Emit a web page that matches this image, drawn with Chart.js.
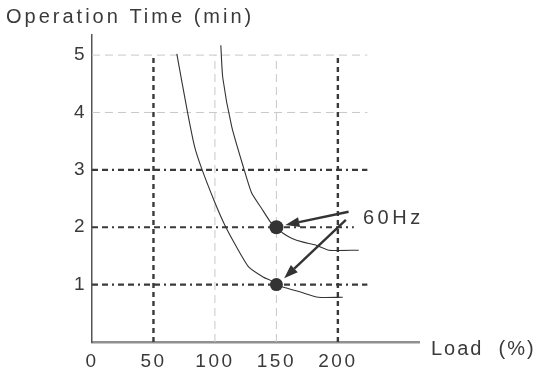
<!DOCTYPE html>
<html>
<head>
<meta charset="utf-8">
<script src="https://cdn.jsdelivr.net/npm/chart.js@4"></script>
<style>
  html, body { margin: 0; padding: 0; background: #fff; }
  #wrap { width: 538px; height: 372px; position: relative; }
</style>
</head>
<body>
<div id="wrap"><canvas id="c" width="538" height="372"></canvas></div>
<script>
// ---- data ----
const xTicks = [0, 50, 100, 150, 200];
const yTicks = [1, 2, 3, 4, 5];

// lower operation-time curve
const lowCurveX = [69, 78, 83.4, 89.1, 99.2, 107.3, 116.7, 127.4, 139.5, 147.6, 150, 155.1, 169.6, 184.1, 204];
const lowCurveY = [5.02, 3.97, 3.41, 3.03, 2.47, 2.07, 1.69, 1.31, 1.13, 1.05, 1.0, 0.96, 0.87, 0.78, 0.78];
// upper operation-time curve
const highCurveX = [104.8, 106.4, 113.7, 123.4, 129.8, 137.9, 145.2, 150, 155.1, 162.3, 171.8, 181.9, 192.8, 217];
const highCurveY = [5.17, 4.60, 3.75, 3.03, 2.60, 2.33, 2.09, 2.0, 1.90, 1.81, 1.74, 1.69, 1.60, 1.60];

// 60Hz marker points
const markX = [150, 150];
const markY = [2, 1];
const markSize = [7, 6.5];

// reference (grid) lines
const majorGridX = [50, 200];
const minorGridX = [100, 150];
const majorGridY = [1, 2, 3];
const majorGridYEnd = [224, 213, 224];
const minorGridY = [4, 5];
const minorGridYEnd = [224, 224];
const gridTop = 5;

// arrows from "60Hz" label to the markers
const arrowFromX = [208.7, 206.5];
const arrowFromY = [2.27, 2.13];
const arrowToX = [157.3, 156.3];
const arrowToY = [2.04, 1.11];

const FONT = '"Liberation Sans", Arial, sans-serif';
const INK = '#333333';

// ---- datasets ----
const datasets = [];
majorGridX.forEach(v => datasets.push({
  data: [{x: v, y: 0}, {x: v, y: gridTop}],
  showLine: true, borderColor: '#3a3a3a', borderWidth: 2.4, borderDash: [5, 4],
  pointRadius: 0, order: 5
}));
minorGridX.forEach(v => datasets.push({
  data: [{x: v, y: 0}, {x: v, y: gridTop}],
  showLine: true, borderColor: '#c8c8c8', borderWidth: 1, borderDash: [8, 5],
  pointRadius: 0, order: 6
}));
majorGridY.forEach((v, i) => datasets.push({
  data: [{x: 0, y: v}, {x: majorGridYEnd[i], y: v}],
  showLine: true, borderColor: '#3a3a3a', borderWidth: 2.2, borderDash: [6, 4, 6, 4, 2, 4],
  pointRadius: 0, order: 5
}));
minorGridY.forEach((v, i) => datasets.push({
  data: [{x: 0, y: v}, {x: minorGridYEnd[i], y: v}],
  showLine: true, borderColor: '#c8c8c8', borderWidth: 1, borderDash: [8, 5],
  pointRadius: 0, order: 6
}));
datasets.push({
  data: lowCurveX.map((x, i) => ({x, y: lowCurveY[i]})),
  showLine: true, borderColor: INK, borderWidth: 1.1, tension: 0.2,
  pointRadius: 0, order: 2
});
datasets.push({
  data: highCurveX.map((x, i) => ({x, y: highCurveY[i]})),
  showLine: true, borderColor: INK, borderWidth: 1.1, tension: 0.2,
  pointRadius: 0, order: 2
});
datasets.push({
  data: markX.map((x, i) => ({x, y: markY[i]})),
  showLine: false, pointRadius: markSize, backgroundColor: INK, borderColor: INK,
  pointBorderWidth: 0, order: 0
});

// ---- plugins ----
const spacingPlugin = {
  id: 'spacing',
  beforeDraw(chart) { chart.ctx.letterSpacing = '2.5px'; }
};

const annotPlugin = {
  id: 'annot',
  afterDraw(chart) {
    const ctx = chart.ctx;
    const xs = chart.scales.x, ys = chart.scales.y;
    ctx.save();
    // arrows
    ctx.strokeStyle = INK; ctx.fillStyle = INK; ctx.lineWidth = 2.4;
    for (let i = 0; i < arrowFromX.length; i++) {
      const x1 = xs.getPixelForValue(arrowFromX[i]), y1 = ys.getPixelForValue(arrowFromY[i]);
      const x2 = xs.getPixelForValue(arrowToX[i]), y2 = ys.getPixelForValue(arrowToY[i]);
      const ang = Math.atan2(y2 - y1, x2 - x1);
      const L = 14, W = 5;
      const bx = x2 - L * Math.cos(ang), by = y2 - L * Math.sin(ang);
      ctx.beginPath(); ctx.moveTo(x1, y1); ctx.lineTo(bx, by); ctx.stroke();
      ctx.beginPath();
      ctx.moveTo(x2, y2);
      ctx.lineTo(bx + W * Math.sin(ang), by - W * Math.cos(ang));
      ctx.lineTo(bx - W * Math.sin(ang), by + W * Math.cos(ang));
      ctx.closePath(); ctx.fill();
    }
    // texts
    ctx.fillStyle = '#3a3a3a';
    ctx.textBaseline = 'alphabetic';
    ctx.textAlign = 'left';
    ctx.font = '20px ' + FONT;
    ctx.letterSpacing = '3px';
    ctx.fillText('Operation Time (min)', 6, 23);
    ctx.letterSpacing = '3.5px';
    ctx.fillText('60Hz', 363, 224);
    ctx.letterSpacing = '2px';
    ctx.fillText('Load  (%)', 431, 355);
    ctx.restore();
  }
};

new Chart(document.getElementById('c'), {
  type: 'scatter',
  data: { datasets },
  options: {
    responsive: false,
    animation: false,
    events: [],
    layout: { padding: { left: 0, top: 35, right: 119, bottom: 0 } },
    plugins: { legend: { display: false }, tooltip: { enabled: false }, title: { display: false } },
    scales: {
      x: {
        type: 'linear', min: 0, max: 266,
        afterBuildTicks: s => { s.ticks = xTicks.map(v => ({value: v})); },
        afterFit: s => { s.height = 30; },
        grid: { display: false, drawTicks: false },
        border: { display: true, color: '#909090', width: 2.5 },
        ticks: { color: '#3a3a3a', font: { family: FONT, size: 19 }, padding: 8, maxRotation: 0, autoSkip: false }
      },
      y: {
        type: 'linear', min: 0, max: 5.35,
        afterBuildTicks: s => { s.ticks = yTicks.map(v => ({value: v})); },
        afterFit: s => { s.width = 92; },
        grid: { display: false, drawTicks: false },
        border: { display: true, color: '#555', width: 1.5 },
        ticks: { color: '#3a3a3a', font: { family: FONT, size: 19 }, padding: 5 }
      }
    }
  },
  plugins: [spacingPlugin, annotPlugin]
});
</script>
</body>
</html>
